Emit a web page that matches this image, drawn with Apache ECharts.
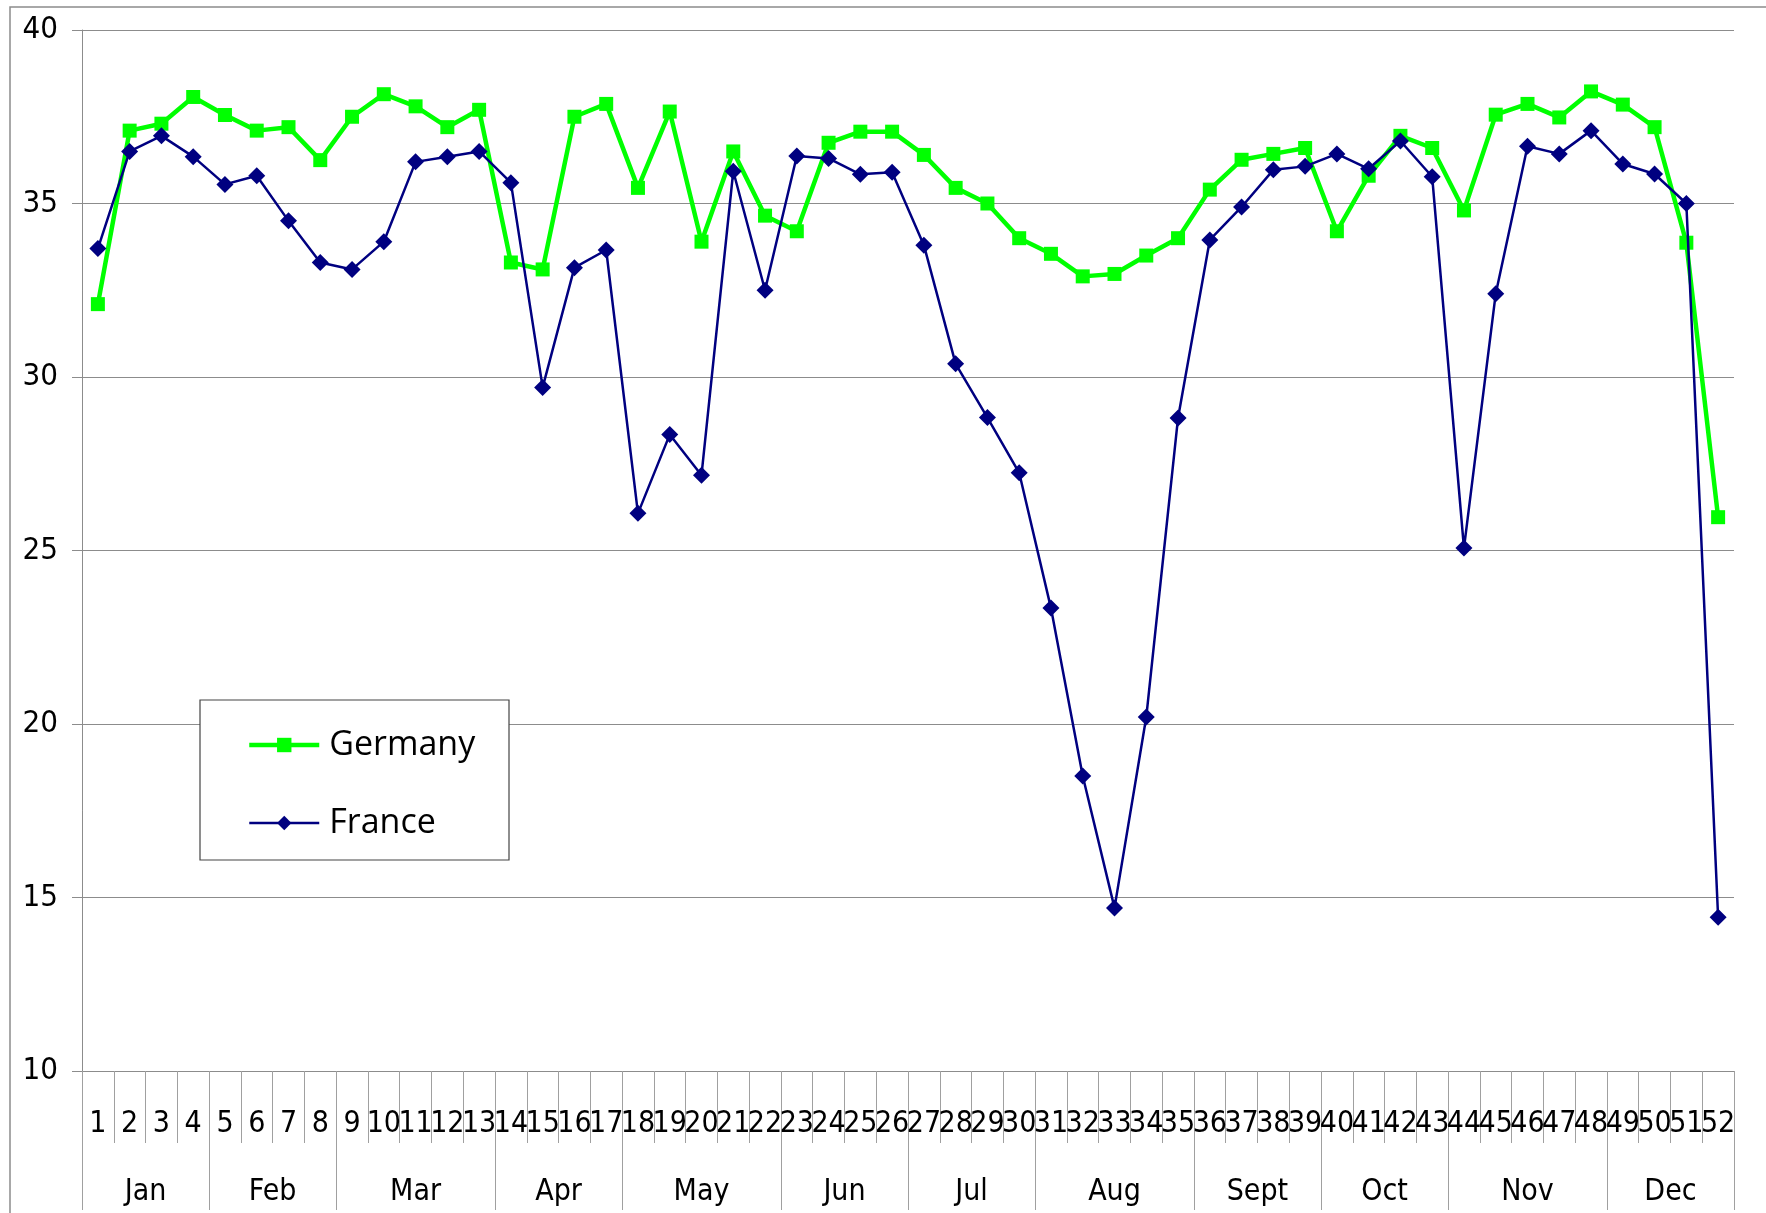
<!DOCTYPE html>
<html>
<head>
<meta charset="utf-8">
<script src="https://cdn.jsdelivr.net/npm/echarts@6/dist/echarts.min.js"></script>
<style>
  html, body { margin: 0; padding: 0; background: #fff; }
  #chart { width: 1766px; height: 1213px; }
</style>
</head>
<body>
<div id="chart"></div>
<script>
const weeks = ["1", "2", "3", "4", "5", "6", "7", "8", "9", "10", "11", "12", "13",
  "14", "15", "16", "17", "18", "19", "20", "21", "22", "23", "24", "25", "26",
  "27", "28", "29", "30", "31", "32", "33", "34", "35", "36", "37", "38", "39",
  "40", "41", "42", "43", "44", "45", "46", "47", "48", "49", "50", "51", "52"];
const months = ["Jan", "Feb", "Mar", "Apr", "May", "Jun", "Jul", "Aug", "Sept", "Oct", "Nov", "Dec"];
const weeksPerMonth = [4, 4, 5, 4, 5, 4, 4, 5, 4, 4, 5, 4];

const germany = [32.1, 37.1, 37.3, 38.07, 37.55, 37.1, 37.2, 36.25, 37.5, 38.15, 37.8, 37.2, 37.7,
  33.3, 33.1, 37.5, 37.87, 35.45, 37.65, 33.9, 36.5, 34.65, 34.2, 36.75, 37.07, 37.07,
  36.4, 35.45, 35.0, 34.0, 33.55, 32.9, 32.97, 33.5, 34.0, 35.4, 36.26, 36.43, 36.6,
  34.2, 35.8, 36.95, 36.6, 34.8, 37.56, 37.87, 37.48, 38.23, 37.85, 37.2, 33.87, 25.96];
const france = [33.7, 36.5, 36.95, 36.35, 35.55, 35.8, 34.5, 33.3, 33.1, 33.9, 36.2, 36.35, 36.5,
  35.6, 29.7, 33.15, 33.66, 26.07, 28.34, 27.17, 35.93, 32.5, 36.37, 36.3, 35.84, 35.9,
  33.8, 30.38, 28.83, 27.24, 23.34, 18.5, 14.7, 20.2, 28.82, 33.95, 34.9, 35.97, 36.07,
  36.43, 36.0, 36.8, 35.77, 25.07, 32.4, 36.65, 36.43, 37.1, 36.14, 35.85, 35.0, 14.43];

// month axis: half-week slots so that both the month borders and the month centres
// fall on a category point (boundaryGap false)
const monthSlots = [];
const monthBorders = new Set([0]);
let start = 0;
for (let i = 0; i < months.length; i++) {
  for (let k = 0; k < weeksPerMonth[i] * 2; k++) monthSlots.push("");
  monthSlots[start * 2 + weeksPerMonth[i]] = months[i];
  start += weeksPerMonth[i];
  monthBorders.add(start * 2);
}
monthSlots.push("");

const axisFont = "'Liberation Sans Narrow', 'DejaVu Sans Condensed', 'Liberation Sans', sans-serif";
const gridGrey = "#8c8c8c";

const chart = echarts.init(document.getElementById("chart"));
chart.setOption({
  animation: false,
  backgroundColor: "#fff",
  grid: { left: 82, right: 32, top: 30, bottom: 142 },
  graphic: [
    {
      type: "rect",
      z: 0,
      shape: { x: 10, y: 7, width: 1800, height: 1250 },
      style: { fill: "none", stroke: gridGrey, lineWidth: 1.5 },
    },
    {
      type: "rect",
      z: 3,
      shape: { x: 200, y: 700, width: 309, height: 160 },
      style: { fill: "#fff", stroke: "#444", lineWidth: 1.2 },
    },
  ],
  legend: {
    orient: "vertical",
    left: 247,
    top: 728,
    padding: 0,
    z: 5,
    itemWidth: 70,
    itemHeight: 18,
    itemGap: 44,
    lineStyle: { width: "inherit" },
    textStyle: {
      fontFamily: "'Open Sans', sans-serif",
      fontSize: 34,
      lineHeight: 34,
      color: "#000",
      padding: [0, 0, 0, 5],
    },
    data: ["Germany", "France"],
  },
  xAxis: [
    {
      type: "category",
      data: weeks,
      position: "bottom",
      axisLine: { show: true, lineStyle: { color: gridGrey, width: 1 } },
      axisTick: { show: true, interval: 0, length: 72, lineStyle: { color: "#a0a0a0" } },
      axisLabel: { interval: 0, margin: 38, fontFamily: axisFont, fontSize: 30, lineHeight: 30, color: "#000" },
      splitLine: { show: false },
    },
    {
      type: "category",
      data: monthSlots,
      position: "bottom",
      boundaryGap: false,
      axisLine: { show: false },
      axisTick: {
        show: true,
        interval: (idx) => monthBorders.has(idx),
        length: 139,
        lineStyle: { color: "#a0a0a0" },
      },
      axisLabel: { interval: 0, margin: 106, fontFamily: axisFont, fontSize: 30, lineHeight: 30, color: "#000" },
      splitLine: { show: false },
    },
  ],
  yAxis: {
    type: "value",
    min: 10,
    max: 40,
    interval: 5,
    axisLine: { show: true, lineStyle: { color: gridGrey } },
    axisTick: { show: true, length: 10, lineStyle: { color: gridGrey } },
    axisLabel: { margin: 24, fontFamily: axisFont, fontSize: 31, color: "#000" },
    splitLine: { lineStyle: { color: gridGrey, width: 1 } },
  },
  series: [
    {
      name: "Germany",
      type: "line",
      data: germany,
      symbol: "rect",
      symbolSize: 14,
      itemStyle: { color: "#00ff00" },
      lineStyle: { color: "#00ff00", width: 4.5 },
      z: 2,
    },
    {
      name: "France",
      type: "line",
      data: france,
      symbol: "diamond",
      symbolSize: [17, 17],
      itemStyle: { color: "#000080" },
      lineStyle: { color: "#000080", width: 2.5 },
      z: 3,
    },
  ],
});
</script>
</body>
</html>
